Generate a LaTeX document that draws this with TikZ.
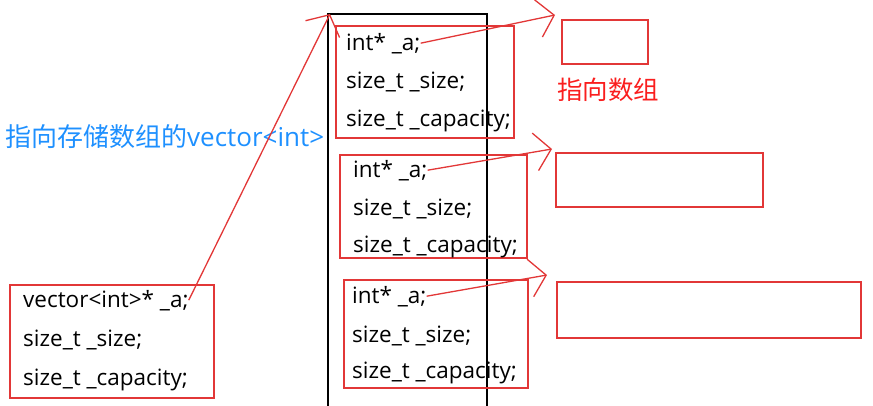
\documentclass[tikz,border=0pt]{standalone}
\usepackage{fontspec}
\setmainfont{Open Sans}
\newfontfamily\cjk{Noto Sans CJK SC}
\usetikzlibrary{arrows.meta}
\definecolor{boxred}{RGB}{226,55,55}
\definecolor{txtred}{RGB}{250,30,30}
\definecolor{txtblue}{RGB}{30,144,255}

\begin{document}
\begin{tikzpicture}[
    x=1pt, y=-1pt,
    redbox/.style={draw=boxred, line width=1.8pt, anchor=north west, inner sep=0pt},
    code/.style={font=\fontsize{22.5}{26}\selectfont, anchor=base west, inner sep=0pt},
    ptr/.style={draw=boxred, line width=1.3pt, -{Straight Barb[length=16pt, width=38pt]}},
]
\useasboundingbox (0,0) rectangle (873,405);

% vector<vector<int>> storage block
\draw[line width=1.8pt] (328,410) -- (328,14) coordinate (top) -- (487,14) -- (487,410);

% inner vector<int> objects
\node[redbox, minimum width=178pt, minimum height=112pt] (box1) at (335,25) {};
\node[code] (a1) at (346,50) {int* \_a;};
\node[code] (s1) at (346,88) {size\_t \_size;};
\node[code] (c1) at (346,126) {size\_t \_capacity;};

\node[redbox, minimum width=187pt, minimum height=103pt] (box2) at (339,154) {};
\node[code] (a2) at (353,177) {int* \_a;};
\node[code] (s2) at (353,215) {size\_t \_size;};
\node[code] (c2) at (353,252) {size\_t \_capacity;};

\node[redbox, minimum width=184pt, minimum height=108pt] (box3) at (343,279) {};
\node[code] (a3) at (352,303) {int* \_a;};
\node[code] (s3) at (352,342) {size\_t \_size;};
\node[code] (c3) at (352,378) {size\_t \_capacity;};

% outer vector<vector<int>>
\node[redbox, minimum width=204pt, minimum height=113pt] (outer) at (9,284) {};
\node[code] (va) at (23,307) {vector<int>* \_a;};
\node[code] (vs) at (23,346) {size\_t \_size;};
\node[code] (vc) at (23,385) {size\_t \_capacity;};

% arrays
\node[redbox, minimum width=86pt, minimum height=44pt] (arr1) at (561,19) {};
\node[redbox, minimum width=207pt, minimum height=54pt] (arr2) at (555,152) {};
\node[redbox, minimum width=304pt, minimum height=56pt] (arr3) at (556,281) {};

% labels
\node[anchor=base west, inner sep=0pt, text=txtred, font=\cjk\fontsize{25.5}{30}\selectfont] (lbl1) at (557,99) {指向数组};
\node[anchor=base west, inner sep=0pt, text=txtblue, font=\fontsize{26}{30}\selectfont] (lbl2) at (5,146) {{\cjk 指向存储数组的}vector<int>};

% pointers
\coordinate (tip1) at (555,15);
\coordinate (tip2) at (552,149);
\coordinate (tip3) at (547,275);
\draw[ptr] (a1.east) -- (tip1);
\draw[ptr] (a2.east) -- (tip2);
\draw[ptr] (a3.east) -- (tip3);
\draw[ptr] (va.east) -- ([xshift=2pt]top);
\end{tikzpicture}
\end{document}
